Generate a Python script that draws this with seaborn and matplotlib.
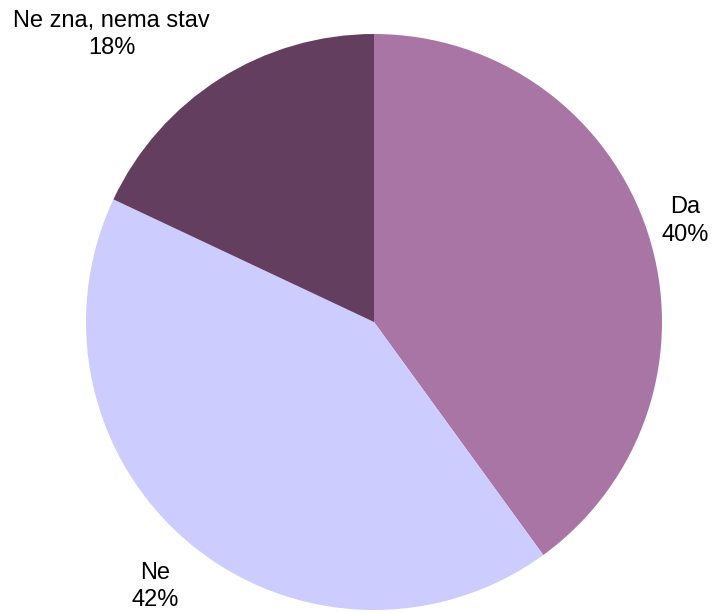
import matplotlib
matplotlib.use("Agg")
import matplotlib.pyplot as plt
import seaborn as sns
import numpy as np

sns.set_theme(style="white")
plt.rcParams['font.family'] = ['Liberation Sans', 'DejaVu Sans']

categories = ["Da", "Ne", "Ne zna, nema stav"]
values = [40, 42, 18]
pct_labels = ["40%", "42%", "18%"]
colors = ["#A975A5", "#CCCCFF", "#633E5E"]

W, H = 713, 613
fig = plt.figure(figsize=(W / 100, H / 100), dpi=100)
ax = fig.add_axes([0, 0, 1, 1])
cx, cy, r = 374, H - 322, 288
wedges, _ = ax.pie(values, colors=colors, startangle=90, counterclock=False,
                   center=(cx, cy), radius=r, wedgeprops=dict(linewidth=0))
ax.set_xlim(0, W)
ax.set_ylim(0, H)
ax.set_aspect('equal')
ax.axis('off')

# label placement relative to wedge mid-angle
dist = [1.135, 1.19, 1.35]
ang_off = [0, 0, 10]
for w, cat, pl, d, off in zip(wedges, categories, pct_labels, dist, ang_off):
    mid = np.deg2rad((w.theta1 + w.theta2) / 2 + off)
    x = cx + d * r * np.cos(mid)
    y = cy + d * r * np.sin(mid)
    ax.text(x, y, f"{cat}\n{pl}", ha='center', va='center', fontsize=17,
            color='black', linespacing=1.3)

fig.savefig("out.png", dpi=100)
